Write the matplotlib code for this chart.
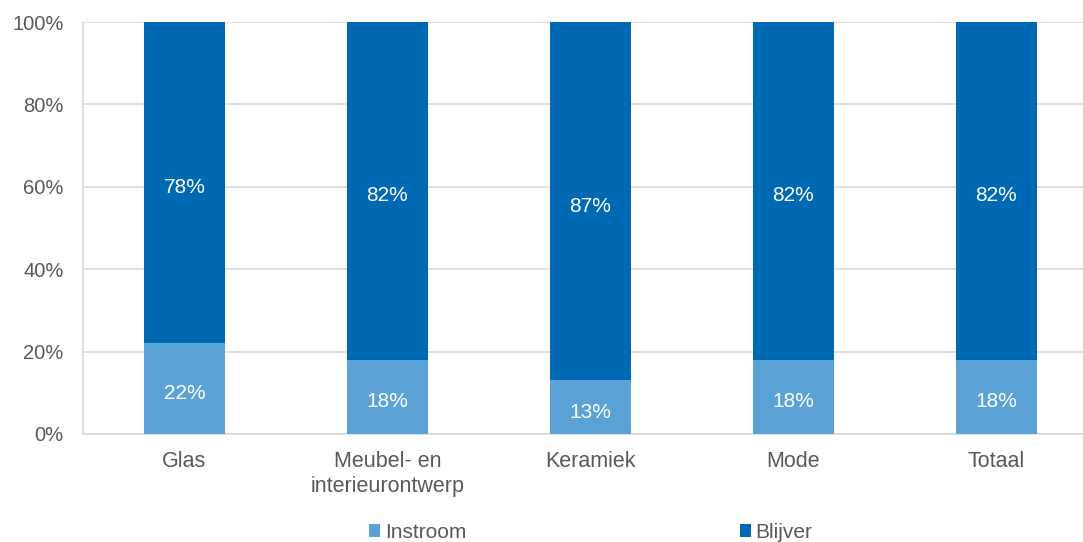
import matplotlib.pyplot as plt
from matplotlib.ticker import PercentFormatter

categories = ["Glas", "Meubel- en\ninterieurontwerp", "Keramiek", "Mode", "Totaal"]
instroom = [22, 18, 13, 18, 18]
blijver = [78, 82, 87, 82, 82]

plt.rcParams['font.family'] = ['Liberation Sans', 'DejaVu Sans']

light = "#5BA3D6"
dark = "#0069B4"
grey = "#595959"

fig = plt.figure(figsize=(10.83, 5.42), dpi=100)
ax = fig.add_axes([0.0766, 0.1993, 0.9372, 0.7601])

x = range(len(categories))
b1 = ax.bar(x, instroom, width=0.4, color=light, label="Instroom", zorder=3)
b2 = ax.bar(x, blijver, width=0.4, bottom=instroom, color=dark, label="Blijver", zorder=3)

for bars, vals in ((b1, instroom), (b2, blijver)):
    for rect, v in zip(bars, vals):
        ax.annotate("{}%".format(v),
                    (rect.get_x() + rect.get_width() / 2, rect.get_y() + rect.get_height() / 2),
                    xytext=(0, -3.5), textcoords="offset points",
                    ha="center", va="center", color="white", fontsize=15, zorder=4)

ax.set_xlim(-0.5, 4.5)
ax.set_ylim(0, 100)
ax.set_yticks([0, 20, 40, 60, 80, 100])
ax.yaxis.set_major_formatter(PercentFormatter(decimals=0))
ax.set_xticks(list(x))
ax.set_xticklabels(categories, linespacing=1.25, fontsize=15.5)
ax.tick_params(axis="both", length=0, colors=grey)
ax.tick_params(axis="y", labelsize=14.5, pad=14)
ax.tick_params(axis="x", pad=12)
ax.grid(axis="y", color="#D9D9D9", linewidth=1.2, zorder=0)
for s in ("top", "right"):
    ax.spines[s].set_visible(False)
ax.spines["left"].set_color("#D9D9D9")
ax.spines["bottom"].set_color("#D9D9D9")
ax.spines["left"].set_linewidth(1.2)
ax.spines["bottom"].set_linewidth(1.2)

leg = fig.legend(handles=[b1, b2], loc="center", bbox_to_anchor=(0.5457, 0.0175), ncol=2,
                 frameon=False, fontsize=15, handlelength=0.53, handleheight=0.53,
                 handletextpad=0.24, columnspacing=13.1, labelcolor=grey,
                 borderpad=0, borderaxespad=0)

plt.savefig("out.png", dpi=100)
plt.close()
